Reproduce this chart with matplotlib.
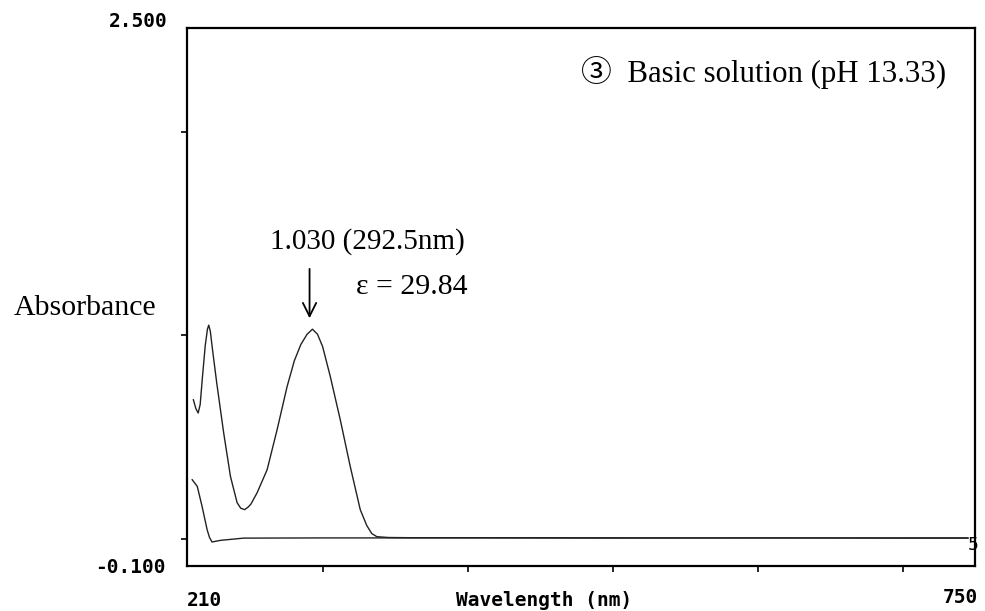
import matplotlib
matplotlib.use("Agg")
import matplotlib.pyplot as plt

# sample (pH 13.33) spectrum
sample_nm = [210.3, 212.0, 213.6, 215.0, 216.5, 218.5, 220.0, 220.9, 222.0, 223.5,
             226.4, 231.2, 235.9, 240.5, 243.0, 245.7, 248.0, 250.0, 254.3, 261.2,
             268.1, 275.0, 280.0, 284.5, 288.8, 292.5, 296.0, 299.5, 304.8, 311.7,
             318.6, 325.5, 330.0, 333.5, 337.0, 345.0, 360.0, 450.0, 550.0, 650.0, 745.0]
sample_abs = [0.683, 0.64, 0.618, 0.66, 0.79, 0.95, 1.03, 1.05, 1.02, 0.93,
              0.767, 0.521, 0.306, 0.177, 0.150, 0.143, 0.155, 0.17, 0.226, 0.339,
              0.536, 0.748, 0.875, 0.955, 1.005, 1.030, 1.005, 0.945, 0.798, 0.585,
              0.355, 0.143, 0.065, 0.025, 0.010, 0.006, 0.005, 0.005, 0.004, 0.004, 0.004]

# baseline / reference trace
ref_nm = [209.5, 213.0, 216.3, 219.8, 221.5, 223.2, 229.0, 245.0, 300.0, 400.0, 500.0, 600.0, 700.0, 745.0]
ref_abs = [0.29, 0.257, 0.159, 0.044, 0.005, -0.016, -0.008, 0.003, 0.004, 0.004, 0.003, 0.004, 0.003, 0.003]

x_ticks = [300, 400, 500, 600, 700]
y_ticks = [0.0, 1.0, 2.0]

peak_nm = 292.5
peak_abs = 1.030

fig = plt.figure(figsize=(9.85, 6.11), dpi=100)
ax = fig.add_axes([0.19, 0.074, 0.80, 0.880])

ax.plot(sample_nm, sample_abs, color="#222222", lw=1.0)
ax.plot(ref_nm, ref_abs, color="#222222", lw=1.0)

ax.set_xlim(206, 750)
ax.set_ylim(-0.133, 2.51)
ax.set_xticks(x_ticks)
ax.set_yticks(y_ticks)
ax.set_xticklabels([])
ax.set_yticklabels([])
ax.tick_params(direction="out", length=4, width=1.2, color="black")
for s in ax.spines.values():
    s.set_linewidth(1.6)

mono = dict(family="DejaVu Sans Mono", fontweight="bold", fontsize=14, color="black")
serif = ["Liberation Serif", "DejaVu Serif", "Noto Sans CJK JP"]

fig.text(0.170, 0.964, "2.500", ha="right", va="center", **mono)
fig.text(0.168, 0.072, "-0.100", ha="right", va="center", **mono)
fig.text(0.190, 0.018, "210", ha="left", va="center", **mono)
fig.text(0.993, 0.022, "750", ha="right", va="center", **mono)
fig.text(0.552, 0.018, "Wavelength (nm)", ha="center", va="center", **mono)
fig.text(0.993, 0.108, "5", ha="right", va="center", family="DejaVu Sans Mono",
         fontsize=13, color="black")

fig.text(0.014, 0.496, "Absorbance", ha="left", va="center", family=serif, fontsize=21.5)

ax.text(0.731, 0.918, "③  Basic solution (pH 13.33)", transform=ax.transAxes,
        ha="center", va="center", family=serif, fontsize=22.2)

ax.annotate("", xy=(peak_nm - 2, peak_abs + 0.04), xytext=(peak_nm - 2, peak_abs + 0.31),
            arrowprops=dict(arrowstyle="->", color="black", lw=1.3, mutation_scale=24))
ax.text(263.4, peak_abs + 0.43, "1.030 (292.5nm)", ha="left", va="center",
        family=serif, fontsize=21)
ax.text(322.8, peak_abs + 0.205, "ε = 29.84", ha="left", va="center",
        family=serif, fontsize=21.5)

fig.savefig("out.png", dpi=100)
